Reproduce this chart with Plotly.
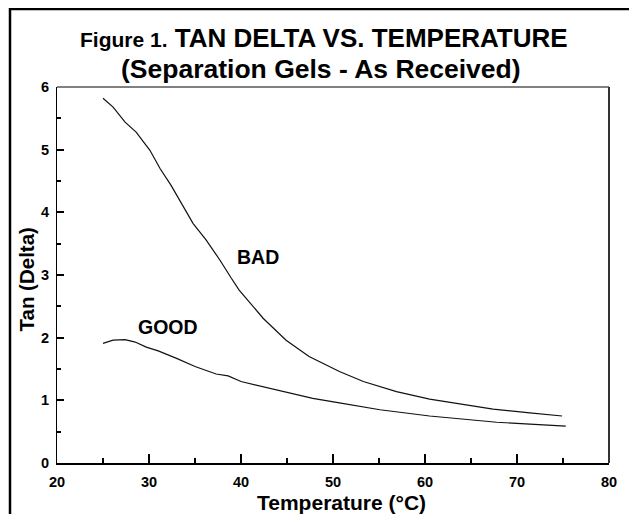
import plotly.graph_objects as go

# Data
temp_bad = [25, 26.1, 27.4, 28.6, 30.1, 31.2, 32.4, 33.7, 34.8, 36.2, 37.7, 38.9, 39.8,
            42.4, 44.9, 47.4, 50.7, 53.3, 56.9, 60.5, 64.2, 67.4, 71.4, 74.9]
tan_bad = [5.82, 5.68, 5.44, 5.28, 4.99, 4.70, 4.43, 4.11, 3.82, 3.56, 3.24, 2.96, 2.76,
           2.31, 1.96, 1.70, 1.46, 1.30, 1.14, 1.02, 0.93, 0.86, 0.80, 0.75]

temp_good = [25, 26.1, 27.4, 28.5, 29.7, 31.0, 33.0, 35.0, 37.3, 38.6, 40.0, 42.0,
             44.9, 47.8, 50.7, 55.1, 60.5, 64.2, 67.8, 71.4, 75.3]
tan_good = [1.91, 1.96, 1.97, 1.93, 1.85, 1.79, 1.67, 1.54, 1.42, 1.39, 1.30, 1.23,
            1.12, 1.03, 0.96, 0.85, 0.75, 0.70, 0.65, 0.62, 0.59]

x_ticks = [20, 30, 40, 50, 60, 70, 80]
y_ticks = [0, 1, 2, 3, 4, 5, 6]

FONT = "Liberation Sans, Arial, sans-serif"
OFF = 8  # page body margin offset
W, H = 637 - 2 * OFF, 522 - 2 * OFF
# plot area in page pixels: x 57..609, y 87..463
L, T = 57 - OFF, 87 - OFF
R = W - (609 - OFF)
B = H - (463 - OFF)
PW, PH = W - L - R, H - T - B


def px(xp):
    return (xp - OFF - L) / PW


def py(yp):
    return (H - B - (yp - OFF)) / PH


fig = go.Figure()
fig.add_trace(go.Scatter(x=temp_bad, y=tan_bad, mode="lines",
                         line=dict(color="#111111", width=1.2), showlegend=False))
fig.add_trace(go.Scatter(x=temp_good, y=tan_good, mode="lines",
                         line=dict(color="#111111", width=1.2), showlegend=False))

fig.update_layout(
    width=W, height=H,
    margin=dict(l=L, r=R, t=T, b=B, pad=0),
    paper_bgcolor="white", plot_bgcolor="white",
    font=dict(family=FONT, color="black"),
    showlegend=False,
)

fig.update_xaxes(
    range=[20, 80], tickvals=x_ticks, ticktext=[f"<b>{v}</b>" for v in x_ticks],
    ticks="inside", ticklen=9, tickwidth=1.5, tickcolor="black",
    minor=dict(ticks="inside", ticklen=5, dtick=5, tickcolor="black", tickwidth=1.5),
    showline=True, linewidth=2, linecolor="black",
    showgrid=False, zeroline=False,
    tickfont=dict(size=14.5, family=FONT, color="black"),
    ticklabelstandoff=5,
)
fig.update_yaxes(
    range=[0, 6], tickvals=y_ticks, ticktext=[f"<b>{v}</b>" for v in y_ticks],
    ticks="inside", ticklen=7, tickwidth=1.5, tickcolor="black",
    minor=dict(ticks="inside", ticklen=4, dtick=0.5, tickcolor="black", tickwidth=1.5),
    showline=True, linewidth=1, linecolor="black",
    showgrid=False, zeroline=False,
    tickfont=dict(size=14.5, family=FONT, color="black"),
    ticklabelstandoff=4,
)

# Outer page frame: only left and top edges are visible in the window
fig.add_shape(type="line", xref="paper", yref="paper",
              x0=px(10), x1=px(10), y0=py(522), y1=py(8),
              line=dict(color="black", width=2.5))
fig.add_shape(type="line", xref="paper", yref="paper",
              x0=px(9), x1=px(W + OFF), y0=py(9), y1=py(9),
              line=dict(color="black", width=2.5))
# Plot box top and right
fig.add_shape(type="line", xref="paper", yref="paper", x0=0, x1=1, y0=1, y1=1,
              line=dict(color="black", width=1))
fig.add_shape(type="line", xref="paper", yref="paper", x0=1, x1=1, y0=0, y1=1,
              line=dict(color="#333333", width=2))

# Title
fig.add_annotation(xref="paper", yref="paper", x=px(324), y=py(38),
                   text="<b><span style='font-size:21px'>Figure 1.</span> TAN DELTA VS. TEMPERATURE</b>",
                   showarrow=False, font=dict(size=26, family=FONT, color="black"),
                   xanchor="center", yanchor="middle")
fig.add_annotation(xref="paper", yref="paper", x=px(321), y=py(69),
                   text="<b>(Separation Gels - As Received)</b>",
                   showarrow=False, font=dict(size=26.5, family=FONT, color="black"),
                   xanchor="center", yanchor="middle")

# Axis titles
fig.add_annotation(xref="paper", yref="paper", x=px(341), y=py(502),
                   text="<b>Temperature (°C)</b>", showarrow=False,
                   font=dict(size=21, family=FONT, color="black"),
                   xanchor="center", yanchor="middle")
fig.add_annotation(xref="paper", yref="paper", x=px(25.5), y=py(280),
                   text="<b>Tan (Delta)</b>", showarrow=False, textangle=-90,
                   font=dict(size=20.5, family=FONT, color="black"),
                   xanchor="center", yanchor="middle")

# Curve labels
fig.add_annotation(x=41.85, y=3.28, text="<b>BAD</b>", showarrow=False,
                   font=dict(size=19.5, family=FONT, color="black"))
fig.add_annotation(x=32.1, y=2.17, text="<b>GOOD</b>", showarrow=False,
                   font=dict(size=19.5, family=FONT, color="black"))

fig.write_html("out.html", config={"displayModeBar": False})
